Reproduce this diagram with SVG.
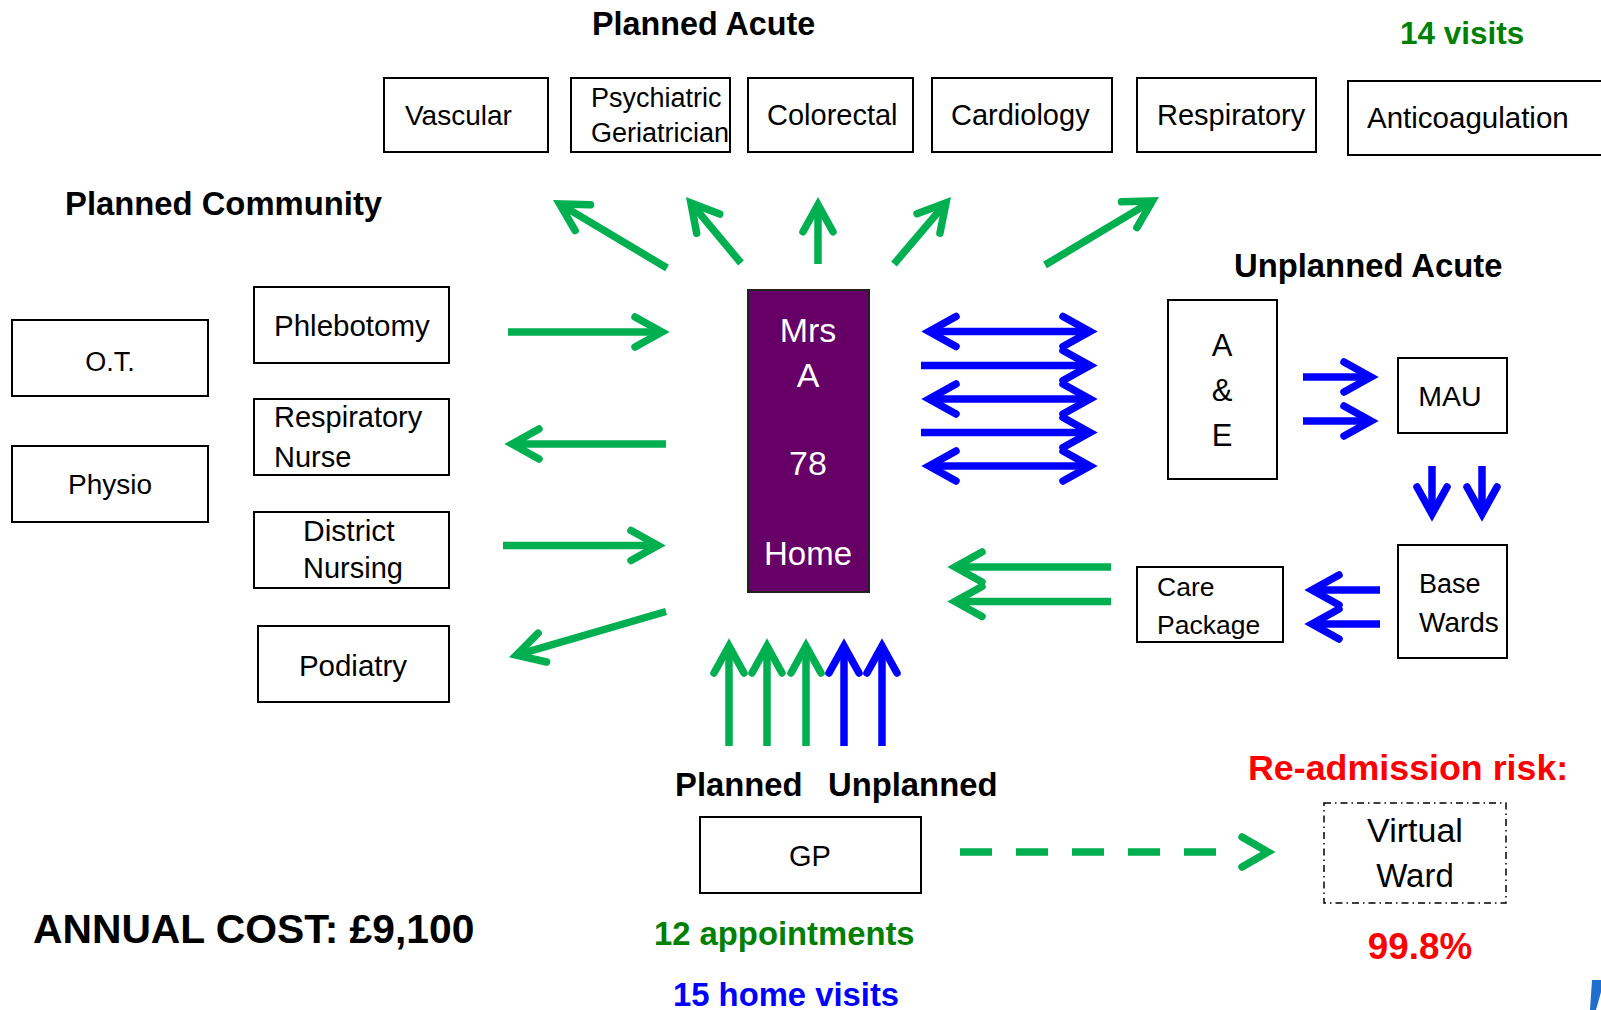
<svg xmlns="http://www.w3.org/2000/svg" width="1601" height="1010" viewBox="0 0 1601 1010">
<defs>
<style>
.box{fill:#fff;stroke:#000;stroke-width:2}
.t{font-family:"Liberation Sans",Arial,sans-serif;font-size:29px;fill:#000}
.h{font-family:"Liberation Sans",Arial,sans-serif;font-weight:bold;font-size:32.8px;fill:#000}
.w{font-family:"Liberation Sans",Arial,sans-serif;font-size:34px;fill:#fff}
.g{stroke:#00B050;stroke-width:7.5;fill:none}
.u{stroke:#0000FF;stroke-width:7.5;fill:none}
.mg{marker-end:url(#ag)}
.mb{marker-end:url(#ab)}
.mbb{marker-start:url(#ab);marker-end:url(#ab)}
</style>
<marker id="ag" markerUnits="userSpaceOnUse" viewBox="-40 -25 50 50" markerWidth="50" markerHeight="50" refX="0" refY="0" orient="auto-start-reverse" overflow="visible">
<path d="M-27,-15 L0,0 L-27,15" fill="none" stroke="#00B050" stroke-width="7.5" stroke-linecap="round" stroke-linejoin="miter"/>
</marker>
<marker id="ab" markerUnits="userSpaceOnUse" viewBox="-40 -25 50 50" markerWidth="50" markerHeight="50" refX="0" refY="0" orient="auto-start-reverse" overflow="visible">
<path d="M-27,-15 L0,0 L-27,15" fill="none" stroke="#0000FF" stroke-width="7.5" stroke-linecap="round" stroke-linejoin="miter"/>
</marker>
</defs>
<rect x="0" y="0" width="1601" height="1010" fill="#fff"/>

<g id="labels">
<text class="h" x="592" y="35" style="font-size:32.3px">Planned Acute</text>
<text class="h" x="1400" y="44" style="font-size:31.5px;fill:#008000">14 visits</text>
<text class="h" x="65" y="215">Planned Community</text>
<text class="h" x="1234" y="277">Unplanned Acute</text>
<text class="h" x="675" y="796">Planned</text>
<text class="h" x="828" y="796">Unplanned</text>
<text class="h" x="33" y="943" style="font-size:40.8px">ANNUAL COST: £9,100</text>
<text class="h" x="654" y="945" style="fill:#008000">12 appointments</text>
<text class="h" x="673" y="1006" style="fill:#0000FF">15 home visits</text>
<text class="h" x="1248" y="780" style="font-size:35.8px;fill:#FF0000">Re-admission risk:</text>
<text class="h" x="1420" y="959" text-anchor="middle" style="font-size:36.8px;fill:#FF0000">99.8%</text>
</g>

<g id="vascular"><rect class="box" x="384" y="78" width="164" height="74"/><text class="t" x="405" y="125" style="font-size:28px">Vascular</text></g>
<g id="psychiatric-geriatrician"><rect class="box" x="571" y="78" width="159" height="74"/><text class="t" x="591" y="107" style="font-size:27px">Psychiatric</text><text class="t" x="591" y="142" style="font-size:27px">Geriatrician</text></g>
<g id="colorectal"><rect class="box" x="748" y="78" width="165" height="74"/><text class="t" x="767" y="125">Colorectal</text></g>
<g id="cardiology"><rect class="box" x="932" y="78" width="180" height="74"/><text class="t" x="951" y="125">Cardiology</text></g>
<g id="respiratory"><rect class="box" x="1137" y="78" width="179" height="74"/><text class="t" x="1157" y="125">Respiratory</text></g>
<g id="anticoagulation"><rect class="box" x="1348" y="81" width="270" height="74"/><text class="t" x="1367" y="128" style="font-size:29.5px">Anticoagulation</text></g>

<g id="ot"><rect class="box" x="12" y="320" width="196" height="76"/><text class="t" x="110" y="371" text-anchor="middle" style="font-size:27px">O.T.</text></g>
<g id="physio"><rect class="box" x="12" y="446" width="196" height="76"/><text class="t" x="110" y="494" text-anchor="middle" style="font-size:28px">Physio</text></g>
<g id="phlebotomy"><rect class="box" x="254" y="287" width="195" height="76"/><text class="t" x="274" y="336" style="font-size:29.5px">Phlebotomy</text></g>
<g id="respiratory-nurse"><rect class="box" x="254" y="399" width="195" height="76"/><text class="t" x="274" y="427">Respiratory</text><text class="t" x="274" y="467">Nurse</text></g>
<g id="district-nursing"><rect class="box" x="254" y="512" width="195" height="76"/><text class="t" x="303" y="541" style="font-size:30px">District</text><text class="t" x="303" y="578">Nursing</text></g>
<g id="podiatry"><rect class="box" x="258" y="626" width="191" height="76"/><text class="t" x="353" y="676" text-anchor="middle" style="font-size:29.5px">Podiatry</text></g>

<g id="mrs-a"><rect x="748" y="290" width="121" height="302" fill="#660066" stroke="#222" stroke-width="2"/>
<text class="w" x="808" y="342" text-anchor="middle">Mrs</text>
<text class="w" x="808" y="387" text-anchor="middle">A</text>
<text class="w" x="808" y="475" text-anchor="middle">78</text>
<text class="w" x="808" y="565" text-anchor="middle" style="font-size:33px">Home</text></g>

<g id="a-and-e"><rect class="box" x="1168" y="300" width="109" height="179"/>
<text class="t" x="1222" y="356" text-anchor="middle" style="font-size:31px">A</text>
<text class="t" x="1222" y="401" text-anchor="middle" style="font-size:31px">&amp;</text>
<text class="t" x="1222" y="446" text-anchor="middle" style="font-size:31px">E</text></g>
<g id="mau"><rect class="box" x="1398" y="358" width="109" height="75"/><text class="t" x="1450" y="406" text-anchor="middle" style="font-size:28.5px">MAU</text></g>
<g id="base-wards"><rect class="box" x="1398" y="545" width="109" height="113"/><text class="t" x="1419" y="593" style="font-size:27px">Base</text><text class="t" x="1419" y="632" style="font-size:28px">Wards</text></g>
<g id="care-package"><rect class="box" x="1137" y="567" width="146" height="75"/><text class="t" x="1157" y="596" style="font-size:26.5px">Care</text><text class="t" x="1157" y="634" style="font-size:26.5px">Package</text></g>
<g id="gp"><rect class="box" x="700" y="817" width="221" height="76"/><text class="t" x="810" y="866" text-anchor="middle">GP</text></g>
<g id="virtual-ward"><rect x="1324" y="803" width="182" height="100" fill="#fff" stroke="#000" stroke-width="1.5" stroke-dasharray="7 4 1.5 4"/>
<text class="t" x="1415" y="842" text-anchor="middle" style="font-size:34px">Virtual</text>
<text class="t" x="1415" y="887" text-anchor="middle" style="font-size:33px">Ward</text></g>

<g id="connectors">
<line class="g mg" x1="667" y1="268" x2="559.6" y2="203.9"/>
<line class="g mg" x1="741" y1="263" x2="690.9" y2="202.9"/>
<line class="g mg" x1="818" y1="264" x2="818" y2="204.7"/>
<line class="g mg" x1="894" y1="264" x2="946" y2="202.9"/>
<line class="g mg" x1="1045" y1="265" x2="1152.4" y2="200.9"/>

<line class="g mg" x1="508" y1="332" x2="662" y2="332"/>
<line class="g mg" x1="666" y1="444" x2="512" y2="444"/>
<line class="g mg" x1="503" y1="545.5" x2="658" y2="545.5"/>
<line class="g mg" x1="666" y1="611.5" x2="516.4" y2="655.2"/>

<line class="u mbb" x1="929" y1="331.5" x2="1090" y2="331.5"/>
<line class="u mb" x1="921" y1="365.5" x2="1090" y2="365.5"/>
<line class="u mbb" x1="929" y1="399" x2="1090" y2="399"/>
<line class="u mb" x1="921" y1="432.5" x2="1090" y2="432.5"/>
<line class="u mbb" x1="929" y1="466" x2="1090" y2="466"/>

<line class="u mb" x1="1303" y1="377" x2="1371" y2="377"/>
<line class="u mb" x1="1303" y1="421" x2="1371" y2="421"/>
<line class="u mb" x1="1432" y1="466" x2="1432" y2="514"/>
<line class="u mb" x1="1482" y1="466" x2="1482" y2="514"/>
<line class="u mb" x1="1380" y1="590" x2="1312" y2="590"/>
<line class="u mb" x1="1380" y1="624" x2="1312" y2="624"/>
<line class="g mg" x1="1111" y1="567" x2="955" y2="567"/>
<line class="g mg" x1="1111" y1="601.5" x2="955" y2="601.5"/>

<line class="g mg" x1="729" y1="746" x2="729" y2="646"/>
<line class="g mg" x1="767" y1="746" x2="767" y2="646"/>
<line class="g mg" x1="806" y1="746" x2="806" y2="646"/>
<line class="u mb" x1="844" y1="746" x2="844" y2="646"/>
<line class="u mb" x1="882" y1="746" x2="882" y2="646"/>

<line class="g" x1="960" y1="852" x2="1217" y2="852" stroke-dasharray="32 24"/>
<path d="M1242,837 L1268,852 L1242,867" fill="none" stroke="#00B050" stroke-width="7.5" stroke-linecap="round"/>
</g>

<polygon points="1592,980 1601,980 1601,992 1596,1010 1590,1010" fill="#1F6FCC"/>
</svg>
